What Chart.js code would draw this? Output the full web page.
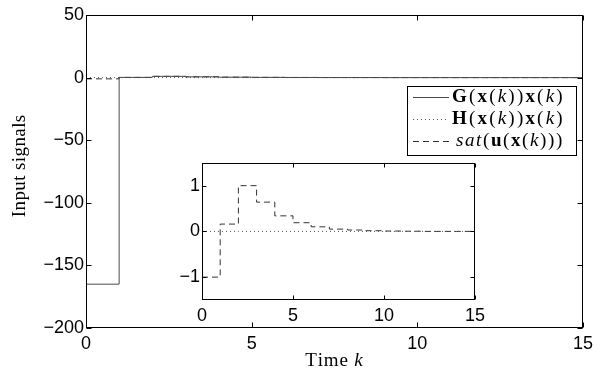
<!DOCTYPE html>
<html lang="en">
<head>
<meta charset="UTF-8">
<title>Input signals</title>
<style>
  body { margin: 0; background: #fff; }
  #wrap { position: relative; width: 600px; height: 370px; }
  #main { position: absolute; left: 0; top: 0; }
  #inset { position: absolute; left: 150px; top: 150px; }
</style>
</head>
<body>
<div id="wrap">
  <canvas id="main" width="600" height="370"></canvas>
  <canvas id="inset" width="340" height="180"></canvas>
</div>
<script src="https://cdn.jsdelivr.net/npm/chart.js"></script>
<script>
// time steps k and the three input signals
const steps     = [0, 1, 2, 3, 4, 5, 6, 7, 8, 9, 10, 11, 12, 13, 14, 15];
const gSignal   = [-165, 0.15, 1, 0.63, 0.34, 0.19, 0.1, 0.05, 0.03, 0.015, 0.008, 0.004, 0, 0, 0, 0];
const hSignal   = [0, 0, 0, 0, 0, 0, 0, 0, 0, 0, 0, 0, 0, 0, 0, 0];
const satSignal = [-1, 0.16, 1, 0.64, 0.34, 0.19, 0.1, 0.05, 0.03, 0.015, 0.008, 0.004, 0, 0, 0, 0];

const mainXTicks  = [0, 5, 10, 15];
const mainYTicks  = [-200, -150, -100, -50, 0, 50];
const insetXTicks = [0, 5, 10, 15];
const insetYTicks = [-1, 0, 1];

const TICK_FONT = { family: '"Liberation Sans", Arial, sans-serif', size: 18 };
const SERIF = '"Liberation Serif", "Times New Roman", serif';

const solidCol = '#4a4a4a', dotCol = '#555', dashCol = '#333';

function pts(arr) { return steps.map((k, i) => ({ x: k, y: arr[i] })); }
function minus(v) { return v < 0 ? '\u2212' + Math.abs(v) : '' + v; }

// draws text made of regular / bold / italic pieces, char by char
function richText(ctx, parts, x, y, size, spacing, dry) {
  let cx = x;
  parts.forEach(([s, st]) => {
    ctx.font = (st === 'b' ? 'bold ' : st === 'i' ? 'italic ' : '') + size + 'px ' + SERIF;
    for (const ch of s) {
      if (!dry) ctx.fillText(ch, cx, y);
      cx += ctx.measureText(ch).width + spacing;
    }
  });
  return cx - x - spacing;
}

const frame = {
  id: 'frame',
  beforeDatasetsDraw(chart, args, opts) {
    if (!opts.fill) return;
    const a = chart.chartArea;
    chart.ctx.save();
    chart.ctx.fillStyle = '#fff';
    chart.ctx.fillRect(a.left, a.top, a.right - a.left, a.bottom - a.top);
    chart.ctx.restore();
  },
  afterDatasetsDraw(chart, args, opts) {
    const { ctx, chartArea: a, scales: { x, y } } = chart;
    const len = opts.len;
    const L = Math.round(a.left) + 0.5, R = Math.round(a.right) - 0.5;
    const T = Math.round(a.top) + 0.5, B = Math.round(a.bottom) - 0.5;
    ctx.save();
    ctx.strokeStyle = '#000';
    ctx.lineWidth = 1;
    ctx.beginPath();
    x.ticks.forEach(t => {
      const px = Math.round(x.getPixelForValue(t.value)) + 0.5;
      ctx.moveTo(px, B); ctx.lineTo(px, B - len);
      ctx.moveTo(px, T); ctx.lineTo(px, T + len);
    });
    y.ticks.forEach(t => {
      const py = Math.round(y.getPixelForValue(t.value)) + 0.5;
      ctx.moveTo(L, py); ctx.lineTo(L + len, py);
      ctx.moveTo(R, py); ctx.lineTo(R - len, py);
    });
    ctx.stroke();
    ctx.strokeRect(L, T, R - L, B - T);
    ctx.restore();
  }
};

// legend + axis titles for the main axes
const labels = {
  id: 'labels',
  afterDraw(chart) {
    const ctx = chart.ctx;
    ctx.save();
    ctx.fillStyle = '#000';
    ctx.textBaseline = 'alphabetic';

    // x title
    const xt = [['Time ', 'r'], ['k', 'i']];
    const w = richText(ctx, xt, 0, 0, 19, 0.8, true);
    richText(ctx, xt, 334 - w / 2, 366, 19, 0.8);

    // y title
    ctx.save();
    ctx.translate(25, 166);
    ctx.rotate(-Math.PI / 2);
    const yt = [['Input signals', 'r']];
    const wy = richText(ctx, yt, 0, 0, 19, 0.4, true);
    richText(ctx, yt, -wy / 2, 0, 19, 0.4);
    ctx.restore();

    // legend box
    ctx.fillStyle = '#fff';
    ctx.fillRect(407.5, 86.5, 169, 69);
    ctx.strokeStyle = '#000';
    ctx.lineWidth = 1;
    ctx.strokeRect(407.5, 86.5, 169, 69);

    const rows = [
      { y: 97, col: solidCol, dash: [], sp: 2.2, x: 452, parts: [['G', 'b'], ['(', 'r'], ['x', 'b'], ['(', 'r'], ['k', 'i'], ['))', 'r'], ['x', 'b'], ['(', 'r'], ['k', 'i'], [')', 'r']] },
      { y: 119, col: dotCol, dash: [1, 3], sp: 2.2, x: 452, parts: [['H', 'b'], ['(', 'r'], ['x', 'b'], ['(', 'r'], ['k', 'i'], ['))', 'r'], ['x', 'b'], ['(', 'r'], ['k', 'i'], [')', 'r']] },
      { y: 141, col: dashCol, dash: [6, 4], sp: 1.6, x: 456, parts: [['sat', 'i'], ['(', 'r'], ['u', 'b'], ['(', 'r'], ['x', 'b'], ['(', 'r'], ['k', 'i'], [')))', 'r']] }
    ];
    rows.forEach(r => {
      ctx.save();
      ctx.strokeStyle = r.col;
      ctx.setLineDash(r.dash);
      ctx.beginPath();
      ctx.moveTo(413, r.y + 0.5);
      ctx.lineTo(449, r.y + 0.5);
      ctx.stroke();
      ctx.restore();
      ctx.fillStyle = '#000';
      ctx.textBaseline = 'middle';
      richText(ctx, r.parts, r.x, r.y, 19, r.sp);
    });
    ctx.restore();
  }
};

function axes(xMin, xMax, yMin, yMax, xTicks, yTicks, yWidth, xHeight) {
  return {
    x: {
      type: 'linear', min: xMin, max: xMax,
      grid: { display: false, drawTicks: false },
      border: { display: false },
      afterBuildTicks: s => { s.ticks = xTicks.map(v => ({ value: v })); },
      afterFit: s => { s.height = xHeight; },
      ticks: { color: '#000', font: TICK_FONT, padding: 5, maxRotation: 0, callback: v => minus(v) }
    },
    y: {
      type: 'linear', min: yMin, max: yMax,
      grid: { display: false, drawTicks: false },
      border: { display: false },
      afterBuildTicks: s => { s.ticks = yTicks.map(v => ({ value: v })); },
      afterFit: s => { s.width = yWidth; },
      ticks: { color: '#000', font: TICK_FONT, padding: 2, callback: v => minus(v) }
    }
  };
}

// value at step k holds until k+1
const lineBase = { stepped: 'before', pointRadius: 0, borderWidth: 1, fill: false };

new Chart(document.getElementById('main'), {
  type: 'line',
  data: {
    datasets: [
      Object.assign({ label: 'G(x(k))x(k)', data: pts(gSignal), borderColor: solidCol }, lineBase),
      Object.assign({ label: 'H(x(k))x(k)', data: pts(hSignal), borderColor: dotCol, borderDash: [1, 3] }, lineBase),
      Object.assign({ label: 'sat(u(x(k)))', data: pts(satSignal), borderColor: dashCol, borderDash: [6, 4] }, lineBase)
    ]
  },
  options: {
    responsive: false,
    animation: false,
    layout: { padding: { top: 15, right: 17, left: 0, bottom: 0 } },
    scales: axes(0, 15, -200, 50, mainXTicks, mainYTicks, 86, 42),
    plugins: { legend: { display: false }, tooltip: { enabled: false }, frame: { len: 5 } }
  },
  plugins: [frame, labels]
});

new Chart(document.getElementById('inset'), {
  type: 'line',
  data: {
    datasets: [
      Object.assign({ label: 'H(x(k))x(k)', data: pts(hSignal), borderColor: dotCol, borderDash: [1, 3] }, lineBase),
      Object.assign({ label: 'sat(u(x(k)))', data: pts(satSignal), borderColor: dashCol, borderDash: [6, 4] }, lineBase)
    ]
  },
  options: {
    responsive: false,
    animation: false,
    layout: { padding: { top: 10, right: 11, left: 0, bottom: 0 } },
    scales: axes(0, 15, -1.5, 1.5, insetXTicks, insetYTicks, 52, 30),
    plugins: { legend: { display: false }, tooltip: { enabled: false }, frame: { len: 4, fill: true } }
  },
  plugins: [frame]
});
</script>
</body>
</html>
